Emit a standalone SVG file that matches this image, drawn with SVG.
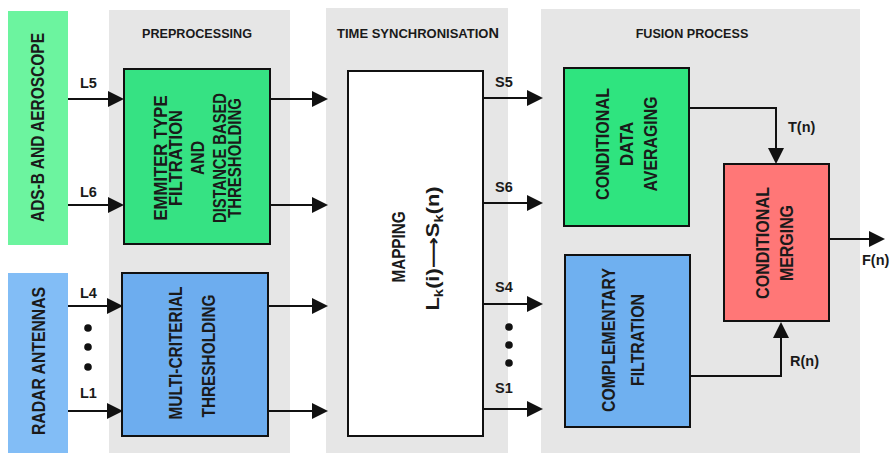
<svg xmlns="http://www.w3.org/2000/svg" width="891" height="453" viewBox="0 0 891 453">
<style>
.panel{fill:#e6e6e6}
.box{stroke:#111;stroke-width:2}
.t{font-family:"Liberation Sans",Arial,sans-serif;font-weight:bold;fill:#1a1a1a}
.hd{font-size:12.6px;text-anchor:middle}
.bt{font-size:17.5px;text-anchor:middle}
.lb{font-size:14.5px}
.con{fill:none;stroke:#111;stroke-width:2}
</style>
<defs>
<marker id="ah" viewBox="0 0 16 16" refX="8" refY="8" markerWidth="16" markerHeight="16" markerUnits="userSpaceOnUse" orient="auto">
<path d="M0,0 L16,8 L0,16 z" fill="#111"/>
</marker>
</defs>
<rect width="891" height="453" fill="#fff"/>
<g id="panel-preprocessing">
<rect class="panel" x="109" y="10" width="181" height="443"/>
<text class="t hd" x="197" y="38">PREPROCESSING</text>
</g>
<g id="panel-timesync">
<rect class="panel" x="326" y="8" width="182" height="445"/>
<text class="t hd" x="418" y="38" style="font-size:13px">TIME SYNCHRONISATIO<tspan style="font-size:14.5px">N</tspan></text>
</g>
<g id="panel-fusion">
<rect class="panel" x="541" y="9" width="319" height="444"/>
<text class="t hd" x="692" y="38">FUSION PROCESS</text>
</g>
<g id="src-adsb">
<rect x="8" y="11" width="60" height="234" fill="#6cf49f"/>
<text class="t bt" transform="translate(44.3,127.5) rotate(-90)" textLength="189" lengthAdjust="spacingAndGlyphs">ADS-B AND AEROSCOPE</text>
</g>
<g id="src-radar">
<rect x="8" y="273" width="60" height="180" fill="#82bdf6"/>
<text class="t bt" transform="translate(45.3,361) rotate(-90)" textLength="148" lengthAdjust="spacingAndGlyphs">RADAR ANTENNAS</text>
</g>
<g id="emmiter">
<rect class="box" x="124" y="69" width="146" height="175" fill="#36e283"/>
<text class="t bt" transform="translate(167.3,158) rotate(-90)" textLength="125" lengthAdjust="spacingAndGlyphs">EMMITER TYPE</text>
<text class="t bt" transform="translate(182.3,158) rotate(-90)" textLength="96" lengthAdjust="spacingAndGlyphs">FILTRATION</text>
<text class="t bt" transform="translate(204.3,158) rotate(-90)" textLength="34" lengthAdjust="spacingAndGlyphs">AND</text>
<text class="t bt" transform="translate(226.3,158) rotate(-90)" textLength="130" lengthAdjust="spacingAndGlyphs">DISTANCE BASED</text>
<text class="t bt" transform="translate(241.3,158) rotate(-90)" textLength="120" lengthAdjust="spacingAndGlyphs">THRESHOLDING</text>
</g>
<g id="multi">
<rect class="box" x="122" y="273" width="146" height="163" fill="#6dadef"/>
<text class="t bt" transform="translate(182.3,353) rotate(-90)" textLength="133" lengthAdjust="spacingAndGlyphs">MULTI-CRITERIAL</text>
<text class="t bt" transform="translate(215.3,356) rotate(-90)" textLength="123" lengthAdjust="spacingAndGlyphs">THRESHOLDING</text>
</g>
<g id="mapping">
<rect class="box" x="348" y="71" width="135" height="365" fill="#fff"/>
<text class="t bt" transform="translate(405.3,247) rotate(-90)" textLength="71" lengthAdjust="spacingAndGlyphs">MAPPING</text>
<text class="t bt" transform="translate(438.5,248.5) rotate(-90)" textLength="124" lengthAdjust="spacingAndGlyphs">L<tspan style="font-size:12px" dy="4">k</tspan><tspan dy="-4">(i)</tspan><tspan style="font-family:'DejaVu Sans',sans-serif">⟶</tspan>S<tspan style="font-size:12px" dy="4">k</tspan><tspan dy="-4">(n)</tspan></text>
</g>
<g id="averaging">
<rect class="box" x="564" y="68" width="125" height="158" fill="#2fe47f"/>
<text class="t bt" transform="translate(609.3,144) rotate(-90)" textLength="112" lengthAdjust="spacingAndGlyphs">CONDITIONAL</text>
<text class="t bt" transform="translate(633.3,144) rotate(-90)" textLength="44" lengthAdjust="spacingAndGlyphs">DATA</text>
<text class="t bt" transform="translate(657.3,144) rotate(-90)" textLength="95" lengthAdjust="spacingAndGlyphs">AVERAGING</text>
</g>
<g id="merging">
<rect class="box" x="724" y="164" width="105" height="157" fill="#ff7777"/>
<text class="t bt" transform="translate(769.3,243) rotate(-90)" textLength="112" lengthAdjust="spacingAndGlyphs">CONDITIONAL</text>
<text class="t bt" transform="translate(793.3,243) rotate(-90)" textLength="76" lengthAdjust="spacingAndGlyphs">MERGING</text>
</g>
<g id="complementary">
<rect class="box" x="565" y="255" width="125" height="172" fill="#6fb0f0"/>
<text class="t bt" transform="translate(615.3,340) rotate(-90)" textLength="144" lengthAdjust="spacingAndGlyphs">COMPLEMENTARY</text>
<text class="t bt" transform="translate(644.3,340) rotate(-90)" textLength="92" lengthAdjust="spacingAndGlyphs">FILTRATION</text>
</g>
<g id="connectors">
<path class="con" d="M68,99 H116" marker-end="url(#ah)"/>
<path class="con" d="M68,205 H116" marker-end="url(#ah)"/>
<path class="con" d="M68,306 H115" marker-end="url(#ah)"/>
<path class="con" d="M68,411 H115" marker-end="url(#ah)"/>
<path class="con" d="M270,99 H320" marker-end="url(#ah)"/>
<path class="con" d="M270,205 H320" marker-end="url(#ah)"/>
<path class="con" d="M268,306 H320" marker-end="url(#ah)"/>
<path class="con" d="M268,411 H320" marker-end="url(#ah)"/>
<path class="con" d="M483,98 H535" marker-end="url(#ah)"/>
<path class="con" d="M483,203 H535" marker-end="url(#ah)"/>
<path class="con" d="M483,304 H535" marker-end="url(#ah)"/>
<path class="con" d="M483,409 H535" marker-end="url(#ah)"/>
<path class="con" d="M689,108 H776 V156" marker-end="url(#ah)"/>
<path class="con" d="M690,376 H781 V330" marker-end="url(#ah)"/>
<path class="con" d="M829,239 H877" marker-end="url(#ah)"/>
<g fill="#111">
<circle cx="88" cy="328" r="3.8"/><circle cx="88" cy="347" r="3.8"/><circle cx="88" cy="367" r="3.8"/>
<circle cx="509" cy="327" r="3.8"/><circle cx="509" cy="345" r="3.8"/><circle cx="509" cy="363" r="3.8"/>
</g>
<text class="t lb" x="80" y="88">L5</text>
<text class="t lb" x="80" y="197">L6</text>
<text class="t lb" x="80" y="298">L4</text>
<text class="t lb" x="80" y="398">L1</text>
<text class="t lb" x="495" y="87">S5</text>
<text class="t lb" x="495" y="192">S6</text>
<text class="t lb" x="495" y="292">S4</text>
<text class="t lb" x="495" y="393">S1</text>
<text class="t lb" x="788" y="132">T(n)</text>
<text class="t lb" x="790" y="366">R(n)</text>
<text class="t lb" x="862" y="265">F(n)</text>
</g>
</svg>
